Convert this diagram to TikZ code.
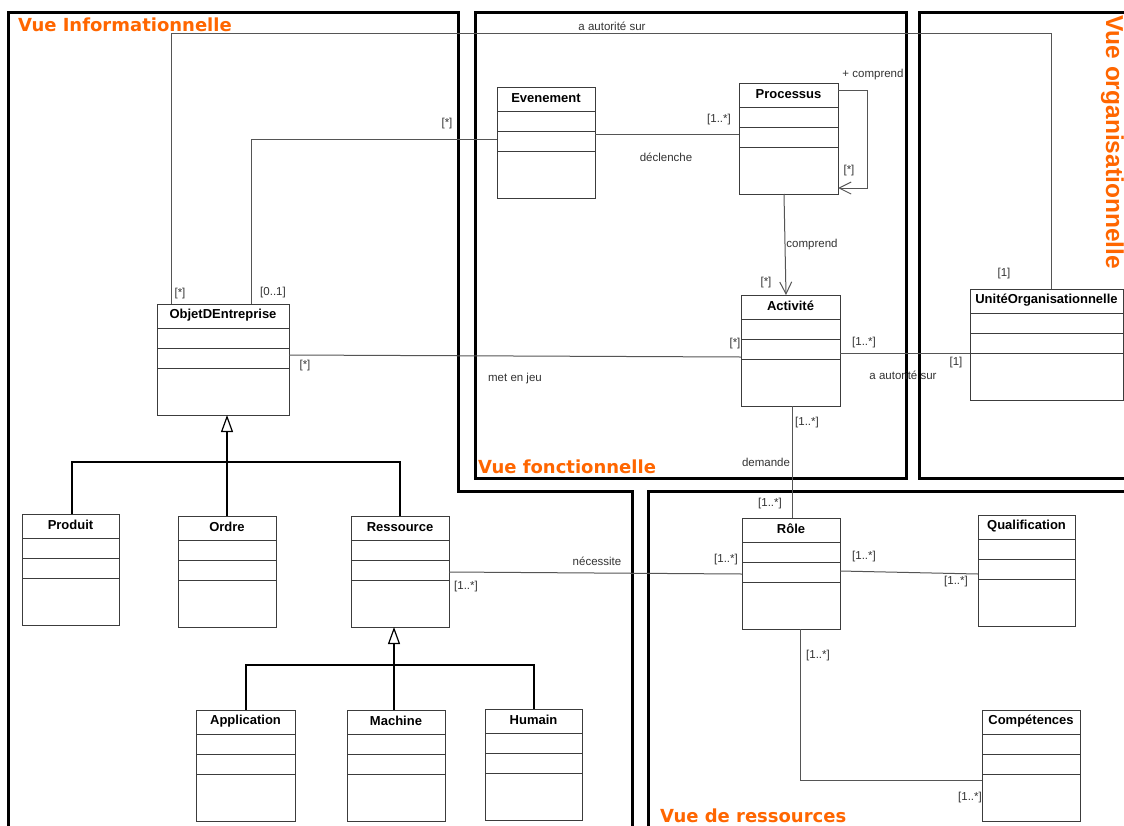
\documentclass[tikz,border=0pt]{standalone}
\usepackage{fontspec}
\setmainfont{Liberation Sans}
\newfontfamily\viewfont{DejaVu Sans}
\usetikzlibrary{arrows.meta}
\definecolor{vieworange}{HTML}{FF6600}
\definecolor{linegray}{HTML}{555555}
\definecolor{boxgray}{HTML}{3C3C3C}
\definecolor{labgray}{HTML}{333333}
\tikzset{
  frame/.style={line width=3pt, draw=black, line join=miter},
  cls/.style={draw=boxgray, line width=1pt, fill=white, rectangle, minimum height=111pt, inner sep=0pt, outer sep=0pt},
  clsline/.style={draw=boxgray, line width=1pt},
  clstitle/.style={font=\fontsize{13}{15}\selectfont\bfseries, inner sep=0pt},
  assoc/.style={draw=linegray, line width=1pt},
  gen/.style={draw=black, line width=1.8pt},
  lab/.style={font=\fontsize{11.5}{13}\selectfont, text=labgray, inner sep=0pt},
  viewtitle/.style={font=\viewfont\fontsize{18}{20}\selectfont\bfseries, text=vieworange, inner sep=0pt, anchor=base west},
  navarrow/.style={-{Straight Barb[length=12pt, width=12pt, line width=1pt]}},
  genarrow/.style={-{Triangle[open, length=17pt, width=12pt, line width=1.2pt]}},
}
\newcommand\umlclass[5]{%
  \node[cls, minimum width=#4pt, anchor=north west] (#1) at (#2,#3) {};
  \node[clstitle] (#1-title) at ([yshift=-11pt]#1.north) {#5};
  \draw[clsline] ([yshift=-24pt]#1.north west) -- ([yshift=-24pt]#1.north east);
  \draw[clsline] ([yshift=-44pt]#1.north west) -- ([yshift=-44pt]#1.north east);
  \draw[clsline] ([yshift=-64pt]#1.north west) -- ([yshift=-64pt]#1.north east);
}
\begin{document}
\begin{tikzpicture}[x=1pt, y=-1pt]
\clip (0,0) rectangle (1124,825);
\fill[white] (0,0) rectangle (1124,825);

% view frames
\draw[frame] (8,840) -- (8,12) -- (458,12) -- (458,491) -- (632,491) -- (632,840);
\draw[frame] (475,12) rectangle (906,478);
\draw[frame] (1140,12) -- (919,12) -- (919,478) -- (1140,478);
\draw[frame] (648,840) -- (648,491) -- (1140,491);

% view titles
\node[viewtitle] (tinfo) at (18,31.5) {Vue Informationnelle};
\node[viewtitle] (tfonc) at (478,473) {Vue fonctionnelle};
\node[viewtitle] (tress) at (660,822) {Vue de ressources};
\node[rotate=-90, anchor=base west, font=\fontsize{24.5}{26}\selectfont\bfseries, text=vieworange, inner sep=0pt] (torg) at (1106,15) {Vue organisationnelle};

% classes
\umlclass{ev}{497}{87}{98}{Evenement}
\umlclass{pro}{739}{83}{99}{Processus}
\umlclass{act}{741}{295}{99}{Activité}
\umlclass{uo}{970}{289}{153}{UnitéOrganisationnelle}
\umlclass{obj}{157}{304}{132}{ObjetDEntreprise}
\umlclass{prod}{22}{514}{97}{Produit}
\umlclass{ord}{178}{516}{98}{Ordre}
\umlclass{res}{351}{516}{98}{Ressource}
\umlclass{app}{196}{710}{99}{Application}
\umlclass{mach}{347}{710}{98}{Machine}
\umlclass{hum}{485}{709}{97}{Humain}
\umlclass{role}{742}{518}{98}{Rôle}
\umlclass{qual}{978}{515}{97}{Qualification}
\umlclass{comp}{982}{710}{98}{Compétences}

% helper coordinates
\coordinate (topbus) at (0,33.5);
\coordinate (objA) at ([xshift=14pt]obj.north west);
\coordinate (uoA) at ([xshift=81pt]uo.north west);
\coordinate (objB) at ([xshift=94pt]obj.north west);
\coordinate (evL) at ([yshift=-52pt]ev.north west);
\coordinate (roleB) at ([xshift=58pt]role.south west);
\coordinate (compL) at ([yshift=-70pt]comp.north west);
\coordinate (objT) at ([xshift=70pt]obj.south west);
\coordinate (resT) at ([xshift=43pt]res.south west);

% associations
\draw[assoc] (objA) |- (topbus -| uoA) -- (uoA);
\draw[assoc] (objB) |- (evL);
\draw[assoc] ([yshift=-47pt]ev.north east) -- ([yshift=-51pt]pro.north west);
\draw[assoc, navarrow] ([yshift=-7pt]pro.north east) -- ++(29,0) -- ++(0,98) -- ([yshift=-105pt]pro.north east);
\draw[assoc, navarrow] ([xshift=45pt]pro.south west) -- ([xshift=45pt]act.north west);
\draw[assoc] ([yshift=-51pt]obj.north east) -- ([yshift=-62pt]act.north west);
\draw[assoc] ([yshift=-58pt]act.north east) -- ([yshift=-64pt]uo.north west);
\draw[assoc] ([xshift=51pt]act.south west) -- ([xshift=50pt]role.north west);
\draw[assoc] ([yshift=-56pt]res.north east) -- ([yshift=-56pt]role.north west);
\draw[assoc] ([yshift=-53pt]role.north east) -- ([yshift=-59pt]qual.north west);
\draw[assoc] (roleB) |- (compL);

% generalizations
\draw[gen, genarrow] (ord.north -| objT) -- (objT);
\draw[gen] ([xshift=50pt]prod.north west) -- ++(0,-52) -| ([xshift=49pt]res.north west);
\draw[gen, genarrow] (mach.north -| resT) -- (resT);
\draw[gen] ([xshift=50pt]app.north west) -- ++(0,-45) -| ([xshift=49pt]hum.north west);

% labels
\node[lab] (la1) at (612,26) {a autorité sur};
\node[lab] (la2) at (180,294) {[*]};
\node[lab] (la3) at (273,293) {[0..1]};
\node[lab] (la4) at (447,124) {[*]};
\node[lab] (la5) at (1004,274) {[1]};
\node[lab] (la6) at (719,120) {[1..*]};
\node[lab] (la7) at (666,157) {déclenche};
\node[lab] (la8) at (873,75) {+ comprend};
\node[lab] (la9) at (849,171) {[*]};
\node[lab] (la10) at (812,245) {comprend};
\node[lab] (la11) at (766,283) {[*]};
\node[lab] (la12) at (735,344) {[*]};
\node[lab] (la13) at (305,366) {[*]};
\node[lab] (la14) at (515,379) {met en jeu};
\node[lab] (la15) at (864,343) {[1..*]};
\node[lab] (la16) at (903,375) {a autorité sur};
\node[lab] (la17) at (956,363) {[1]};
\node[lab] (la18) at (807,423) {[1..*]};
\node[lab] (la19) at (766,462) {demande};
\node[lab] (la20) at (770,504) {[1..*]};
\node[lab] (la21) at (597,561) {nécessite};
\node[lab] (la22) at (466,587) {[1..*]};
\node[lab] (la23) at (726,560) {[1..*]};
\node[lab] (la24) at (864,557) {[1..*]};
\node[lab] (la25) at (956,582) {[1..*]};
\node[lab] (la26) at (818,656) {[1..*]};
\node[lab] (la27) at (970,798) {[1..*]};
\end{tikzpicture}
\end{document}
